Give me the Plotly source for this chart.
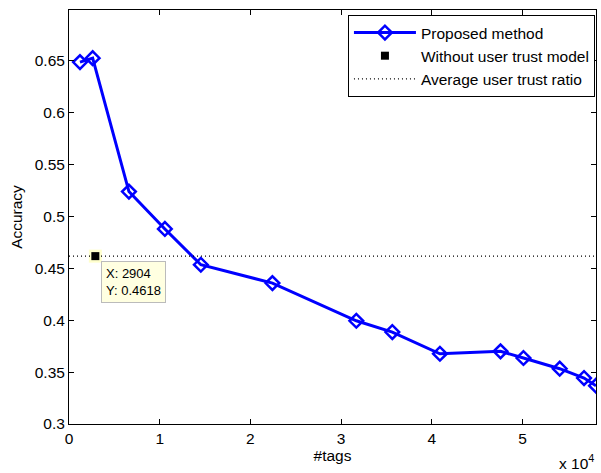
import plotly.graph_objects as go

# Data
tags = [1211, 2610, 6608, 10573, 14537, 22430, 31680, 35650, 40900, 47580, 50110, 54110, 56790, 58110]
accuracy = [0.6488, 0.6526, 0.524, 0.488, 0.4535, 0.4358, 0.3995, 0.3886, 0.3677, 0.370, 0.3636, 0.3533, 0.3443, 0.3369]
no_trust_x = [2904]
no_trust_y = [0.4618]
avg_trust_ratio = 0.4618
x_range = [0, 58110]
y_range = [0.3, 0.699]
x_tickvals = [0, 10000, 20000, 30000, 40000, 50000]
x_ticktext = ["0", "1", "2", "3", "4", "5"]
y_tickvals = [0.3, 0.35, 0.4, 0.45, 0.5, 0.55, 0.6, 0.65]
y_ticktext = ["0.3", "0.35", "0.4", "0.45", "0.5", "0.55", "0.6", "0.65"]

FONT = "Liberation Sans, Arial, Helvetica, sans-serif"
FS = 15.5

fig = go.Figure()

fig.add_trace(go.Scatter(
    x=tags, y=accuracy, mode="lines+markers", name="Proposed method",
    line=dict(color="#0000FF", width=3),
    marker=dict(symbol="diamond-open", size=10.5, color="#0000FF", line=dict(width=2.5, color="#0000FF")),
))
# highlight behind data-tip point
fig.add_trace(go.Scatter(
    x=no_trust_x, y=no_trust_y, mode="markers", showlegend=False, hoverinfo="skip",
    marker=dict(symbol="square", size=13, color="#FFFFCC"),
))
fig.add_trace(go.Scatter(
    x=no_trust_x, y=no_trust_y, mode="markers", name="Without user trust model",
    marker=dict(symbol="square", size=8, color="black"),
))
fig.add_trace(go.Scatter(
    x=x_range, y=[avg_trust_ratio, avg_trust_ratio], mode="lines", name="Average user trust ratio",
    line=dict(color="black", width=1.3, dash="1px,3px"),
))

fig.add_annotation(
    x=no_trust_x[0], y=no_trust_y[0], xref="x", yref="y",
    text=f"X: {no_trust_x[0]}<br>Y: {no_trust_y[0]}",
    showarrow=False, xanchor="left", yanchor="top", align="left",
    xshift=6, yshift=-5,
    bgcolor="#FFFFE1", bordercolor="#BBBBBB", borderwidth=1, borderpad=4,
    font=dict(family=FONT, size=13, color="black"),
)
fig.add_annotation(
    x=1, y=0, xref="paper", yref="paper", text="x 10<sup>4</sup>",
    showarrow=False, xanchor="right", yanchor="top", yshift=-26, xshift=0,
    font=dict(family=FONT, size=FS, color="black"),
)

axis_common = dict(
    showline=True, linecolor="black", linewidth=1, mirror="ticks",
    ticks="inside", ticklen=5, tickcolor="black", showgrid=False, zeroline=False,
    tickfont=dict(family=FONT, size=FS, color="black"),
)
fig.update_xaxes(range=x_range, tickvals=x_tickvals, ticktext=x_ticktext,
                 title=dict(text="#tags", font=dict(family=FONT, size=FS, color="black"), standoff=2),
                 **axis_common)
fig.update_yaxes(range=y_range, tickvals=y_tickvals, ticktext=y_ticktext,
                 title=dict(text="Accuracy", font=dict(family=FONT, size=FS, color="black"), standoff=8),
                 **axis_common)

fig.update_layout(
    width=601, height=473,
    margin=dict(l=69, r=5, t=10, b=49),
    plot_bgcolor="white", paper_bgcolor="white",
    font=dict(family=FONT, size=FS, color="black"),
    showlegend=True,
    legend=dict(x=0.998, y=0.988, xanchor="right", yanchor="top",
                bordercolor="black", borderwidth=1, bgcolor="white",
                font=dict(family=FONT, size=FS, color="black"),
                tracegroupgap=0, itemwidth=62),
)

fig.write_html("out.html", config={"displayModeBar": False},
               post_script="document.body.style.margin='0';document.body.style.overflow='hidden';")
